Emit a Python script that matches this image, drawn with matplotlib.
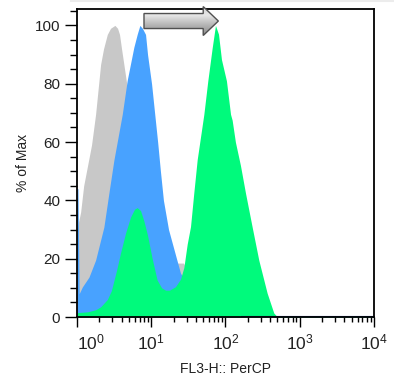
import numpy as np
import matplotlib
matplotlib.use("Agg")
import matplotlib.pyplot as plt
from matplotlib.patches import Polygon
from matplotlib.colors import LinearSegmentedColormap
from matplotlib.ticker import LogLocator, MultipleLocator, NullFormatter

plt.rcParams['font.family'] = ['Liberation Sans', 'DejaVu Sans']
plt.rcParams['mathtext.default'] = 'regular'

# FL3-H intensity (x) and % of Max (y)
gray_x = [1.0, 1.12, 1.23, 1.39, 1.57, 1.78, 2.08, 2.28, 2.56, 2.83, 3.24, 3.52, 3.74,
          3.98, 4.28, 4.61, 5.27, 7.18, 9.79, 13.3, 18.2, 21.9, 27.2, 30.5, 31.8,
          39.5, 53.8, 10000]
gray_y = [30, 36, 45, 52, 59, 69.5, 86.6, 92, 96.9, 99, 100, 99, 96.9,
          92, 86.6, 81, 72, 52, 38, 29, 22, 18.5, 18.5, 16, 12,
          4, 0.5, 0.3]

blue_x = [1.0, 1.03, 1.07, 1.18, 1.45, 1.78, 2.30, 2.69, 3.14, 4.07, 4.75, 5.83, 6.48,
          7.03, 7.6, 8.38, 8.92, 10.1, 11.1, 12.2, 13.3, 14.6, 17.1, 21.9, 24.8,
          27.2, 31.8, 39.5, 53.8, 85.7, 159, 10000]
blue_y = [44, 44, 8, 10.3, 13.7, 19.5, 30.8, 42.5, 53.8, 69.5, 81.2, 92.5, 97,
          100, 99, 96.9, 90, 80, 70, 60, 50, 40, 30, 20, 15,
          13.5, 10, 6, 3, 1.2, 0.5, 0.4]

green_x = [1.0, 1.4, 1.78, 2.08, 2.56, 2.9, 3.41, 3.86, 4.51, 5.27, 5.96, 6.48, 7.18,
           7.95, 8.92, 10.3, 12.0, 13.8, 15.6, 17.6, 21.2, 24.8, 27.5, 30.5, 33.8,
           37.4, 41.6, 51.1, 57.8, 66.2, 73.3, 80.5, 88.3, 103, 117, 123, 136,
           159, 186, 229, 281, 364, 447, 486, 10000]
green_y = [1.5, 1.8, 2.5, 3.5, 6, 9, 16, 22, 28.8, 34.3, 37, 37.5, 36.5,
           33, 28, 20, 12.7, 10, 9.2, 9.2, 10.4, 13, 17, 25, 31,
           42.5, 54, 69.5, 81, 92.3, 100, 97, 88.3, 81, 69.5, 67.5, 60,
           52, 42.5, 30.8, 19.5, 8.2, 1.4, 0.4, 0.4]

decades = [1, 10, 100, 1000, 10000]
decade_labels = ['$10^{0}$', '$10^{1}$', '$10^{2}$', '$10^{3}$', '$10^{4}$']

fig = plt.figure(figsize=(3.94, 3.89), dpi=100)
ax = fig.add_axes([0.1954, 0.185, 0.7538, 0.791])

ax.fill_between(gray_x, 0, gray_y, color='#c8c8c8', linewidth=0)
ax.fill_between(blue_x, 0, blue_y, color='#48a2ff', linewidth=0)
ax.fill_between(green_x, 0, green_y, color='#00fa7c', linewidth=0)
ax.plot([160, 10000], [0.3, 0.3], color='#2040a0', lw=0.8)

# block arrow with gray gradient
x0, xh, xt = 0.2256, 0.425, 0.476
yc, bh, hh = 0.962, 0.0244, 0.047
verts = [(x0, yc - bh), (xh, yc - bh), (xh, yc - hh), (xt, yc),
         (xh, yc + hh), (xh, yc + bh), (x0, yc + bh)]
arrow = Polygon(verts, closed=True, transform=ax.transAxes, facecolor='none',
                edgecolor='#505050', lw=1.0, clip_on=False, zorder=5)
ax.add_patch(arrow)
cmap = LinearSegmentedColormap.from_list('arr', ['#8c8c8c', '#b5b5b5', '#e6e6e6', '#d0d0d0'])
grad = np.linspace(0, 1, 64).reshape(-1, 1)
im = ax.imshow(grad, cmap=cmap, aspect='auto', origin='lower',
               extent=[x0, xt, yc - hh, yc + hh], transform=ax.transAxes,
               zorder=4)
im.set_clip_path(arrow)
im.set_clip_box(None)

ax.set_xscale('log')
ax.set_xlim(1, 10000)
ax.set_ylim(0, 105.5)

ax.set_xticks(decades)
ax.set_xticklabels(decade_labels)
ax.xaxis.set_minor_locator(LogLocator(base=10, subs=np.arange(2, 10)))
ax.xaxis.set_minor_formatter(NullFormatter())
ax.set_yticks([0, 20, 40, 60, 80, 100])
ax.yaxis.set_minor_locator(MultipleLocator(5))

ax.tick_params(axis='x', which='major', length=7, width=1, pad=4,
               labelsize=12.5, labelcolor='#222222')
ax.tick_params(axis='x', which='minor', length=3.5, width=1)
ax.tick_params(axis='y', which='major', length=9, width=1, pad=3,
               labelsize=11, labelcolor='#222222')
ax.tick_params(axis='y', which='minor', length=5, width=1)
ax.get_xticklabels()[0].set_horizontalalignment('left')

for sp in ax.spines.values():
    sp.set_linewidth(1.3)
    sp.set_color('black')

ax.set_xlabel('FL3-H:: PerCP', fontsize=10, color='#222222')
ax.set_ylabel('% of Max', fontsize=10, color='#222222')
ax.xaxis.set_label_coords(0.5, -0.146)
ax.yaxis.set_label_coords(-0.158, 0.5)

fig.add_artist(plt.Line2D([0.18, 1.0], [0.998, 0.998], color='#ececec', lw=1.5))

fig.savefig('out.png', dpi=100)
